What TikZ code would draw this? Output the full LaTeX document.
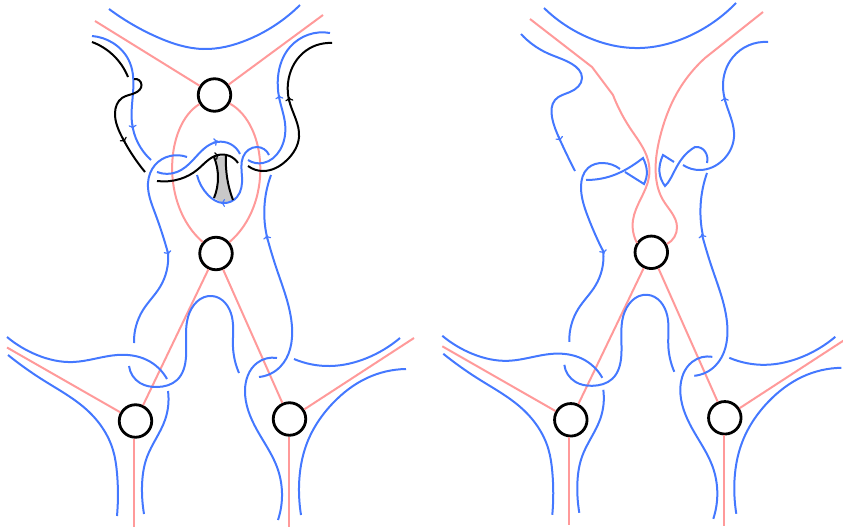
\documentclass[tikz,border=0pt]{standalone}
\usetikzlibrary{arrows.meta,hobby}
\definecolor{Arc}{HTML}{FF9A9A}
\definecolor{Strand}{HTML}{4478FF}
\definecolor{Disc}{HTML}{C8C8C8}
\tikzset{
  arc/.style={draw=Arc,line width=2pt},
  strand/.style={draw=Strand,line width=2pt},
  curve/.style={draw=black,line width=2pt},
  vertex/.style={circle,draw=black,line width=2.8pt,fill=white,minimum size=32.5pt,inner sep=0pt},
  tip/.style={-{To[length=4pt,width=8pt]},line width=1.2pt}
}
\newcommand{\legs}{
  \node[vertex] (midv) at (216,253.5) {};
  \node[vertex] (blv) at (135.5,421) {};
  \node[vertex] (brv) at (289.5,419) {};
  \coordinate (blw) at (7,347.5); \coordinate (bls) at (134,526.5);
  \coordinate (bre) at (414,338); \coordinate (brs) at (289,527);
  \draw[arc] (midv)--(blv); \draw[arc] (midv)--(brv); \draw[arc] (blv)--(blw); \draw[arc] (brv)--(bre);
  \draw[arc] (bls |- blv.south)--(bls); \draw[arc] (brs |- brv.south)--(brs);
  \draw[strand] (168,253) .. (160,287) .. (143,310) .. (134,343);
  \draw[strand] (259,377) .. (280,367) .. (292,327) .. (277,270) .. (267,237);
  \draw[strand,tip] (267.5,240)--(266.5,235);
  \draw[strand] (129,366) .. (140,383) .. (157,387) .. (177,380) .. (186,357) .. (188,317) .. (212,296) .. (232,317) .. (233,347) .. (239,373);
  \draw[strand] (7,337) .. (37,355) .. (73,362) .. (117,355) .. (147,360) .. (167,379);
  \draw[strand] (8,355) .. (43,380) .. (87,410) .. (113,450) .. (117,473) .. (117,516);
  \draw[strand] (168,391) .. (165,420) .. (147,457) .. (142,487) .. (144,514);
  \draw[strand] (277,358) .. (257,363) .. (245,390) .. (257,430) .. (277,467) .. (282,493) .. (278,520);
  \draw[strand] (294,359) .. (330,366) .. (367,358) .. (400,338);
  \draw[strand] (406,369) .. (367,378) .. (333,403) .. (307,443) .. (299,487) .. (301,515);
}
\begin{document}
\begin{tikzpicture}[x=1pt,y=-1pt,use Hobby shortcut]
  \useasboundingbox (0,0) rectangle (843,530);
  \begin{scope}[name prefix=l-] \legs \end{scope}
  \begin{scope}[shift={(435.3,-1.2)},name prefix=r-] \legs \end{scope}
  \node[vertex] (topv) at (214.5,95) {};
  \coordinate (topw) at (95,21); \coordinate (tope) at (323,15);
  \draw[arc] (topv)--(topw); \draw[arc] (topv)--(tope);
  \draw[arc] (topv) .. controls (165,125) and (160,205) .. (l-midv);
  \draw[arc] (topv) .. controls (268,125) and (273,205) .. (l-midv);
  \fill[Disc] (214,157) .. (218,177) .. (214,198) -- (223,203) -- (233,200) .. (227,177) .. (226,156) -- cycle;
  \draw[strand] (109,9) .. (157,37) .. (203,49) .. (247,40) .. (300,5);
  \draw[strand] (92,36) .. (113,43) .. (130,63) .. (133,93) .. (132,123) .. (138,143) .. (151,160);
  \draw[strand,tip] (132.5,124)--(133,129);
  \draw[strand] (187,157) .. (170,156) .. (155,165) .. (148,183) .. (155,213) .. (168,253);
  \draw[strand,tip] (167,250)--(168.5,255);
  \draw[strand] (157,172) .. (177,172) .. (193,160) .. (217,142) .. (240,154);
  \draw[strand,tip] (213,142.5)--(218,141);
  \draw[strand] (197,175) .. (208,195) .. (223,203) .. (237,197) .. (242,177) .. (243,157) .. (257,147) .. (269,155);
  \draw[strand,tip] (226,203)--(221,203);
  \draw[strand] (248,160) .. (263,163) .. (280,150) .. (285,123) .. (279,97) .. (278,77) .. (290,47) .. (330,33);
  \draw[strand,tip] (279.5,100)--(279,95);
  \draw[strand] (271,175) .. (265,200) .. (267,237);
  \draw[curve] (92,42) .. (113,55) .. (128,77);
  \draw[curve] (134,79) .. (141.5,85) .. (135,93) .. (122,98) .. (115,113) .. (122,137) .. (145,172);
  \draw[curve,tip] (122,137)--(125,142);
  \draw[curve] (157,181) .. (180,179) .. (197,170) .. (218,155) .. (238,163);
  \draw[curve,tip] (214,156.5)--(219,155);
  \draw[curve] (214,157) .. (218,177) .. (214,198);
  \draw[curve] (226,156) .. (227,177) .. (233,200);
  \draw[curve] (248,166) .. (263,171) .. (287,160) .. (299,137) .. (289,100) .. (288,83) .. (303,53) .. (332,43);
  \draw[curve,tip] (289.5,102)--(289,97);
  \draw[arc] (530,19) -- (592,67) -- (613,95) .. (630,128) .. (648,160) .. (649,177) .. (633,220) .. (637,243);
  \draw[arc] (763,12) -- (705,58) .. (677,93) .. (660,137) .. (656,177) .. (663,200) .. (677,227) .. (667,244);
  \draw[strand] (544,8) .. (587,37) .. (640,48) .. (687,37) .. (736,3);
  \draw[strand] (521,34) .. (547,53) .. (572,64) .. (582,78) .. (570,92) .. (555,100) .. (552,117) .. (560,140) .. (575,171);
  \draw[strand,tip] (558.5,136)--(560.5,141);
  \draw[strand] (586,180) .. controls (608,180) and (625,172) .. (643,158) .. controls (648,168) and (648,176) .. (644,184) -- (625,172);
  \draw[strand] (620,169) .. (603,163) .. (588,168) .. (581,187) .. (588,217) .. (603.5,252);
  \draw[strand,tip] (602.5,249)--(604,254);
  \draw[strand] (674,162) -- (663,155) .. controls (657,168) and (659,178) .. (665,186) .. controls (674,178) and (676,158) .. (695,147) .. controls (704,146) and (709,155) .. (707,163);
  \draw[strand] (683,165) .. (700,170) .. (723,160) .. (734,137) .. (725,100) .. (723,87) .. (733,57) .. (768,42);
  \draw[strand,tip] (725,102)--(724.5,97);
  \draw[strand] (707,173) .. (701,200) .. (703,236);
\end{tikzpicture}
\end{document}
